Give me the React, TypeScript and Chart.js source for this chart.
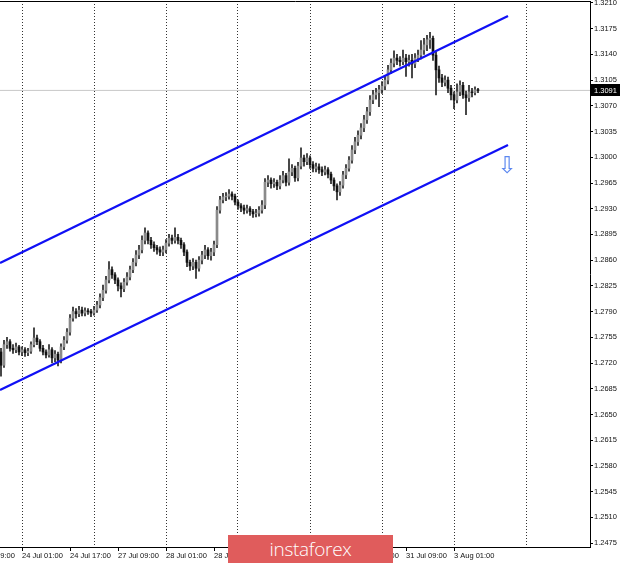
import React, { useEffect, useRef } from "react";
import { Chart, registerables } from "chart.js";

Chart.register(...registerables);

// ---- data (GBP/USD H1) ----
const opens = [
  1.2735, 1.2717, 1.2745, 1.2749, 1.2740, 1.2738, 1.2742, 1.2735, 1.2738, 1.2734,
  1.2736, 1.2745, 1.2754, 1.2749, 1.2740, 1.2735, 1.2731, 1.2738, 1.2727, 1.2732,
  1.2724, 1.2742, 1.2751, 1.2762, 1.2781, 1.2790, 1.2787, 1.2792, 1.2788, 1.2791,
  1.2790, 1.2788, 1.2792, 1.2799, 1.2809, 1.2819, 1.2833, 1.2847, 1.2840, 1.2833,
  1.2825, 1.2821, 1.2830, 1.2837, 1.2847, 1.2857, 1.2867, 1.2874, 1.2887, 1.2897,
  1.2887, 1.2881, 1.2877, 1.2874, 1.2871, 1.2874, 1.2883, 1.2890, 1.2887, 1.2891,
  1.2887, 1.2881, 1.2871, 1.2857, 1.2852, 1.2857, 1.2849, 1.2860, 1.2867, 1.2874,
  1.2866, 1.2871, 1.2881, 1.2928, 1.2942, 1.2946, 1.2947, 1.2950, 1.2947, 1.2939,
  1.2934, 1.2931, 1.2928, 1.2930, 1.2926, 1.2923, 1.2924, 1.2928, 1.2935, 1.2966,
  1.2969, 1.2964, 1.2966, 1.2961, 1.2969, 1.2975, 1.2966, 1.2980, 1.2985, 1.2972,
  1.2988, 1.2999, 1.2994, 1.2999, 1.2990, 1.2985, 1.2987, 1.2983, 1.2980, 1.2983,
  1.2977, 1.2969, 1.2961, 1.2953, 1.2962, 1.2976, 1.2985, 1.2996, 1.3010, 1.3021,
  1.3030, 1.3040, 1.3051, 1.3062, 1.3078, 1.3085, 1.3088, 1.3092, 1.3097, 1.3105,
  1.3119, 1.3128, 1.3135, 1.3132, 1.3130, 1.3135, 1.3130, 1.3132, 1.3127, 1.3135,
  1.3139, 1.3146, 1.3153, 1.3160, 1.3162, 1.3139, 1.3119, 1.3108, 1.3102, 1.3105,
  1.3094, 1.3085, 1.3078, 1.3089, 1.3098, 1.3085, 1.3081, 1.3089, 1.3088, 1.3092,
];
const highs = [
  1.2740, 1.2751, 1.2755, 1.2752, 1.2745, 1.2747, 1.2744, 1.2742, 1.2741, 1.2740,
  1.2749, 1.2768, 1.2758, 1.2752, 1.2744, 1.2738, 1.2745, 1.2741, 1.2737, 1.2735,
  1.2746, 1.2756, 1.2767, 1.2786, 1.2796, 1.2794, 1.2797, 1.2796, 1.2795, 1.2794,
  1.2793, 1.2797, 1.2804, 1.2814, 1.2826, 1.2838, 1.2858, 1.2851, 1.2843, 1.2836,
  1.2829, 1.2835, 1.2843, 1.2852, 1.2862, 1.2873, 1.2880, 1.2893, 1.2904, 1.2900,
  1.2891, 1.2885, 1.2880, 1.2878, 1.2879, 1.2888, 1.2895, 1.2894, 1.2904, 1.2895,
  1.2890, 1.2884, 1.2874, 1.2860, 1.2862, 1.2860, 1.2865, 1.2872, 1.2880, 1.2877,
  1.2876, 1.2886, 1.2933, 1.2947, 1.2951, 1.2952, 1.2956, 1.2953, 1.2950, 1.2942,
  1.2937, 1.2935, 1.2935, 1.2933, 1.2929, 1.2929, 1.2933, 1.2941, 1.2971, 1.2975,
  1.2972, 1.2971, 1.2969, 1.2975, 1.2981, 1.2978, 1.2998, 1.2990, 1.2988, 1.2993,
  1.3013, 1.3003, 1.3005, 1.3002, 1.2994, 1.2992, 1.2991, 1.2987, 1.2988, 1.2986,
  1.2980, 1.2972, 1.2964, 1.2967, 1.2981, 1.2990, 1.3001, 1.3016, 1.3027, 1.3036,
  1.3046, 1.3057, 1.3068, 1.3084, 1.3091, 1.3094, 1.3098, 1.3103, 1.3111, 1.3125,
  1.3134, 1.3145, 1.3140, 1.3137, 1.3146, 1.3140, 1.3139, 1.3140, 1.3141, 1.3146,
  1.3159, 1.3162, 1.3166, 1.3170, 1.3165, 1.3143, 1.3124, 1.3113, 1.3111, 1.3109,
  1.3098, 1.3089, 1.3100, 1.3104, 1.3102, 1.3090, 1.3098, 1.3094, 1.3096, 1.3094,
];
const lows = [
  1.2702, 1.2714, 1.2740, 1.2736, 1.2733, 1.2734, 1.2731, 1.2730, 1.2729, 1.2730,
  1.2733, 1.2742, 1.2745, 1.2736, 1.2731, 1.2727, 1.2728, 1.2720, 1.2722, 1.2716,
  1.2720, 1.2738, 1.2747, 1.2758, 1.2777, 1.2781, 1.2783, 1.2784, 1.2784, 1.2786,
  1.2783, 1.2785, 1.2789, 1.2795, 1.2805, 1.2815, 1.2829, 1.2835, 1.2828, 1.2818,
  1.2810, 1.2817, 1.2826, 1.2833, 1.2843, 1.2852, 1.2862, 1.2870, 1.2882, 1.2882,
  1.2876, 1.2872, 1.2868, 1.2866, 1.2866, 1.2870, 1.2879, 1.2882, 1.2883, 1.2882,
  1.2876, 1.2866, 1.2851, 1.2846, 1.2847, 1.2835, 1.2845, 1.2855, 1.2862, 1.2861,
  1.2860, 1.2866, 1.2877, 1.2924, 1.2938, 1.2941, 1.2943, 1.2942, 1.2935, 1.2929,
  1.2926, 1.2923, 1.2924, 1.2921, 1.2918, 1.2919, 1.2920, 1.2924, 1.2930, 1.2960,
  1.2958, 1.2959, 1.2956, 1.2957, 1.2965, 1.2961, 1.2962, 1.2975, 1.2967, 1.2968,
  1.2984, 1.2988, 1.2990, 1.2985, 1.2980, 1.2980, 1.2978, 1.2975, 1.2976, 1.2972,
  1.2964, 1.2955, 1.2942, 1.2948, 1.2958, 1.2971, 1.2981, 1.2992, 1.3005, 1.3016,
  1.3025, 1.3035, 1.3046, 1.3057, 1.3073, 1.3079, 1.3069, 1.3087, 1.3092, 1.3100,
  1.3114, 1.3123, 1.3126, 1.3124, 1.3126, 1.3110, 1.3124, 1.3108, 1.3122, 1.3130,
  1.3134, 1.3140, 1.3145, 1.3148, 1.3132, 1.3085, 1.3102, 1.3096, 1.3097, 1.3088,
  1.3078, 1.3066, 1.3074, 1.3084, 1.3080, 1.3058, 1.3076, 1.3082, 1.3085, 1.3088,
];
const closes = [
  1.2717, 1.2745, 1.2749, 1.2740, 1.2738, 1.2742, 1.2735, 1.2738, 1.2734, 1.2736,
  1.2745, 1.2754, 1.2749, 1.2740, 1.2735, 1.2731, 1.2738, 1.2727, 1.2732, 1.2724,
  1.2742, 1.2751, 1.2762, 1.2781, 1.2790, 1.2787, 1.2792, 1.2788, 1.2791, 1.2790,
  1.2788, 1.2792, 1.2799, 1.2809, 1.2819, 1.2833, 1.2847, 1.2840, 1.2833, 1.2825,
  1.2821, 1.2830, 1.2837, 1.2847, 1.2857, 1.2867, 1.2874, 1.2887, 1.2897, 1.2887,
  1.2881, 1.2877, 1.2874, 1.2871, 1.2874, 1.2883, 1.2890, 1.2887, 1.2891, 1.2887,
  1.2881, 1.2871, 1.2857, 1.2852, 1.2857, 1.2849, 1.2860, 1.2867, 1.2874, 1.2866,
  1.2871, 1.2881, 1.2928, 1.2942, 1.2946, 1.2947, 1.2950, 1.2947, 1.2939, 1.2934,
  1.2931, 1.2928, 1.2930, 1.2926, 1.2923, 1.2924, 1.2928, 1.2935, 1.2966, 1.2969,
  1.2964, 1.2966, 1.2961, 1.2969, 1.2975, 1.2966, 1.2980, 1.2985, 1.2972, 1.2988,
  1.2999, 1.2994, 1.2999, 1.2990, 1.2985, 1.2987, 1.2983, 1.2980, 1.2983, 1.2977,
  1.2969, 1.2961, 1.2953, 1.2962, 1.2976, 1.2985, 1.2996, 1.3010, 1.3021, 1.3030,
  1.3040, 1.3051, 1.3062, 1.3078, 1.3085, 1.3088, 1.3092, 1.3097, 1.3105, 1.3119,
  1.3128, 1.3135, 1.3132, 1.3130, 1.3135, 1.3130, 1.3132, 1.3127, 1.3135, 1.3139,
  1.3146, 1.3153, 1.3160, 1.3162, 1.3139, 1.3119, 1.3108, 1.3102, 1.3105, 1.3094,
  1.3085, 1.3078, 1.3089, 1.3098, 1.3085, 1.3081, 1.3089, 1.3088, 1.3092, 1.3091,
];

const yTicks = [
  1.3210, 1.3175, 1.3140, 1.3105, 1.3070, 1.3035, 1.3000, 1.2965, 1.2930, 1.2895, 1.2860,
  1.2825, 1.2790, 1.2755, 1.2720, 1.2685, 1.2650, 1.2615, 1.2580, 1.2545, 1.2510, 1.2475,
];
const xLabelBars = [-9, 7, 23, 39, 55, 71, 87, 103, 119, 135, 151];
const xTickLabels = [
  "23 Jul 09:00", "24 Jul 01:00", "24 Jul 17:00", "27 Jul 09:00", "28 Jul 01:00",
  "28 Jul 17:00", "29 Jul 09:00", "30 Jul 01:00", "30 Jul 17:00", "31 Jul 09:00", "3 Aug 01:00",
];
const xGridBars = [7, 31, 55, 79, 103, 127, 151, 175];

// channel lines: [bar, price] end points
const upperChannel = [
  { x: -0.33, y: 1.28561 },
  { x: 169, y: 1.31923 },
];
const lowerChannel = [
  { x: -0.33, y: 1.26833 },
  { x: 169, y: 1.30167 },
];
const arrowMark = { x: 168.7, y: 1.2987 };

const X_MIN = -1 / 3;
const X_MAX = -1 / 3 + 590 / 3;
const Y_MIN = 1.24696;
const Y_MAX = 1.32127;

const FONT = { family: "'Liberation Sans', Arial, sans-serif", size: 7.5 };

export default function App() {
  const ref = useRef<HTMLCanvasElement | null>(null);

  useEffect(() => {
    const canvas = ref.current;
    if (!canvas) return;
    const lastPrice = closes[closes.length - 1];

    const wickData = highs.map((h, i) => ({ x: i, y: [lows[i], h] }));
    const bodyData = closes.map((c, i) => ({ x: i, y: [opens[i], c] }));
    const bodyColors = closes.map((c, i) => (c >= opens[i] ? "#8a8a8a" : "#111111"));

    const xTicksAll = Array.from(new Set([...xLabelBars, ...xGridBars])).sort((a, b) => a - b);

    const overlay = {
      id: "overlay",
      afterDraw(chart: any) {
        const { ctx, chartArea, scales } = chart;
        const y = scales.y.getPixelForValue(lastPrice);
        ctx.save();
        ctx.fillStyle = "#000";
        ctx.fillRect(chartArea.right + 1, Math.round(y) - 6, 29, 12);
        ctx.fillStyle = "#fff";
        ctx.font = "7.5px 'Liberation Sans', Arial, sans-serif";
        ctx.textBaseline = "middle";
        ctx.textAlign = "left";
        ctx.fillText(lastPrice.toFixed(4), chartArea.right + 4, Math.round(y) + 0.5);
        // down arrow annotation
        const ax = scales.x.getPixelForValue(arrowMark.x);
        const ay = scales.y.getPixelForValue(arrowMark.y);
        ctx.fillStyle = "#5b87f0";
        ctx.font = "23px 'DejaVu Sans'";
        ctx.textAlign = "center";
        ctx.fillText("\u21E9", ax, ay);
        ctx.restore();
      },
    };

    const chart = new Chart(canvas, {
      type: "bar",
      data: {
        datasets: [
          {
            type: "line",
            data: [
              { x: X_MIN, y: lastPrice },
              { x: X_MAX, y: lastPrice },
            ],
            borderColor: "#c8c8c8",
            borderWidth: 1,
            pointRadius: 0,
            order: 10,
          } as any,
          {
            type: "bar",
            data: wickData,
            backgroundColor: "#222",
            barThickness: 1,
            grouped: false,
            order: 5,
          } as any,
          {
            type: "bar",
            data: bodyData,
            backgroundColor: bodyColors,
            barThickness: 2,
            grouped: false,
            borderWidth: 0,
            order: 4,
          } as any,
          {
            type: "line",
            data: upperChannel,
            borderColor: "#1010f5",
            borderWidth: 2.3,
            pointRadius: 0,
            order: 1,
          } as any,
          {
            type: "line",
            data: lowerChannel,
            borderColor: "#1010f5",
            borderWidth: 2.3,
            pointRadius: 0,
            order: 1,
          } as any,
        ],
      },
      options: {
        responsive: false,
        animation: false,
        layout: { padding: 0 },
        plugins: { legend: { display: false }, tooltip: { enabled: false } },
        scales: {
          x: {
            type: "linear",
            position: "bottom",
            min: X_MIN,
            max: X_MAX,
            offset: false,
            afterBuildTicks: (s: any) => {
              s.ticks = xTicksAll.map((v) => ({ value: v }));
            },
            afterFit: (s: any) => {
              s.height = 16;
              s.paddingLeft = 0;
              s.paddingRight = 0;
            },
            ticks: {
              autoSkip: false,
              maxRotation: 0,
              align: "start",
              padding: 0,
              color: "#111",
              font: FONT,
              callback: (v: any) => {
                const k = xLabelBars.indexOf(Number(v));
                return k >= 0 ? xTickLabels[k] : "";
              },
            },
            grid: {
              offset: false,
              drawOnChartArea: true,
              lineWidth: 1,
              color: (c: any) =>
                c.tick && xGridBars.includes(c.tick.value) ? "#333" : "rgba(0,0,0,0)",
              tickColor: (c: any) =>
                c.tick && xLabelBars.includes(c.tick.value) ? "#000" : "rgba(0,0,0,0)",
              tickLength: 4,
            },
            border: { display: true, color: "#000", width: 1, dash: [1, 2] },
          } as any,
          xTop: {
            type: "linear",
            position: "top",
            min: X_MIN,
            max: X_MAX,
            offset: false,
            ticks: { display: false },
            grid: { display: false, drawTicks: false },
            border: { display: true, color: "#000", width: 1 },
            afterFit: (s: any) => {
              s.height = 1;
              s.paddingLeft = 0;
              s.paddingRight = 0;
            },
          } as any,
          y: {
            type: "linear",
            position: "right",
            min: Y_MIN,
            max: Y_MAX,
            beginAtZero: false,
            afterBuildTicks: (s: any) => {
              s.ticks = yTicks.map((v) => ({ value: v }));
            },
            afterFit: (s: any) => {
              s.width = 30;
              s.paddingTop = 0;
              s.paddingBottom = 0;
            },
            ticks: {
              padding: 1,
              color: "#111",
              font: FONT,
              callback: (v: any) => Number(v).toFixed(4),
            },
            grid: {
              drawOnChartArea: false,
              tickLength: 3,
              tickColor: "#000",
            },
            border: { display: true, color: "#000", width: 1 },
          } as any,
        },
      },
      plugins: [overlay],
    } as any);

    return () => chart.destroy();
  }, []);

  return (
    <div style={{ position: "absolute", left: 0, top: 0, width: 620, height: 563, background: "#fff" }}>
      <canvas ref={ref} width={620} height={563} style={{ display: "block" }} />
      <div
        style={{
          position: "absolute",
          left: 228,
          top: 535,
          width: 165,
          height: 28,
          background: "#e05c5c",
          color: "#fff",
          fontFamily: "'Open Sans', sans-serif",
          fontSize: 19,
          fontWeight: 300,
          lineHeight: "28px",
          textAlign: "center",
          letterSpacing: -0.3,
        }}
      >
        instaforex
      </div>
    </div>
  );
}
